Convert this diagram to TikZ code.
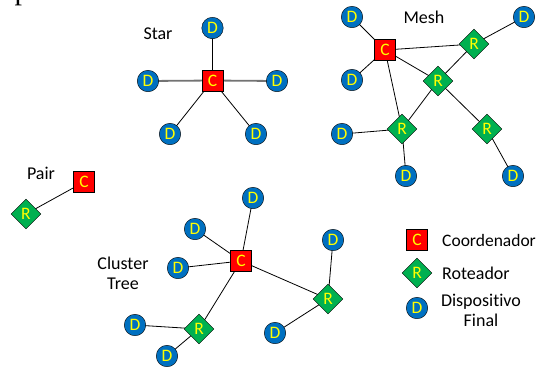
\documentclass[tikz,border=0pt]{standalone}
\usepackage{fontspec}
\setmainfont{Carlito}[Ligatures=NoCommon]
\newfontfamily\serifp{Liberation Serif}
\usetikzlibrary{shapes.geometric}
\pgfdeclarelayer{edges}
\pgfsetlayers{edges,main}
\definecolor{cred}{RGB}{255,0,0}
\definecolor{rgreen}{RGB}{0,176,80}
\definecolor{dblue}{RGB}{0,112,192}
\definecolor{ytext}{RGB}{255,255,0}
\tikzset{
  nfont/.style={font=\fontsize{17.5}{19}\selectfont},
  coord/.style={draw=black, fill=cred, minimum size=21pt, inner sep=0pt, text=ytext, nfont},
  rout/.style={diamond, draw=black, fill=rgreen, minimum width=30pt, minimum height=30pt, inner sep=0pt, text=ytext, nfont},
  dev/.style={circle, draw=black, fill=dblue, minimum size=21.5pt, inner sep=0pt, text=ytext, nfont},
  lbl/.style={font=\fontsize{18}{21}\selectfont, text=black, align=center},
  link/.style={draw=black, line width=0.8pt},
  glink/.style={draw=black!55, line width=1.8pt}
}
\begin{document}
\begin{tikzpicture}[x=1pt,y=-1pt]
\useasboundingbox (0,0) rectangle (539,368);
\begin{scope}
\clip (0,0) rectangle (539,368);
\node[font=\fontsize{30}{30}\selectfont\serifp, anchor=base, inner sep=0pt] (frag) at (22,-1) {p};
\end{scope}
% Star
\node[lbl] (starl) at (158,34) {Star};
\node[coord] (sc) at (212.5,80.5) {C};
\node[dev] (sd1) at (212.5,28) {D};
\node[dev] (sd2) at (148,81) {D};
\node[dev] (sd3) at (277,81) {D};
\node[dev] (sd4) at (170,134) {D};
\node[dev] (sd5) at (256,134) {D};
% Mesh
\node[lbl] (meshl) at (424,17) {Mesh};
\node[coord] (mc) at (385,50) {C};
\node[rout] (mr1) at (474,44) {R};
\node[rout] (mr2) at (438,81) {R};
\node[rout] (mr3) at (402,129) {R};
\node[rout] (mr4) at (487,129) {R};
\node[dev] (md1) at (352,17) {D};
\node[dev] (md2) at (352,80) {D};
\node[dev] (md3) at (524,17) {D};
\node[dev] (md4) at (342,134) {D};
\node[dev] (md5) at (406,176) {D};
\node[dev] (md6) at (513,176) {D};
% Pair
\node[lbl] (pairl) at (41,173) {Pair};
\node[coord] (pc) at (84,182) {C};
\node[rout] (pr) at (26,214) {R};
% Cluster tree
\node[lbl] (clul) at (123,273.5) {Cluster\\[-1pt]Tree};
\node[coord] (cc) at (241,261) {C};
\node[rout] (cr1) at (199,329) {R};
\node[rout] (cr2) at (328,299) {R};
\node[dev] (cd1) at (253,198) {D};
\node[dev] (cd2) at (195,229) {D};
\node[dev] (cd3) at (178,268) {D};
\node[dev] (cd4) at (135,325) {D};
\node[dev] (cd5) at (167,356) {D};
\node[dev] (cd6) at (275,333) {D};
\node[dev] (cd7) at (333,240) {D};
% Legend
\node[coord] (lc) at (417,240) {C};
\node[rout] (lr) at (417,273) {R};
\node[dev] (ld) at (417,308) {D};
\node[lbl, anchor=west, inner sep=0pt, font=\fontsize{17.5}{21}\selectfont] (lct) at (442,240) {Coordenador};
\node[lbl, anchor=west, inner sep=0pt] (lrt) at (442,273) {Roteador};
\node[lbl] (ldt) at (481,310) {Dispositivo\\[-1pt]Final};
% edges
\begin{pgfonlayer}{edges}
\draw[glink] (sc.center) -- (sd2.center);
\draw[glink] (sc.center) -- (sd3.center);
\draw[link] (sc.center) -- (sd1.center);
\draw[link] (sc.center) -- (sd4.center);
\draw[link] (sc.center) -- (sd5.center);
\draw[link] (mc.center) -- (md1.center);
\draw[link] (mc.center) -- (md2.center);
\draw[link] (mc.center) -- (mr1.center);
\draw[link] (mc.center) -- (mr2.center);
\draw[link] (mc.center) -- (mr3.center);
\draw[link] (mr1.center) -- (md3.center);
\draw[link] (mr1.center) -- (mr2.center);
\draw[link] (mr2.center) -- (mr3.center);
\draw[link] (mr2.center) -- (mr4.center);
\draw[link] (mr3.center) -- (md4.center);
\draw[link] (mr3.center) -- (md5.center);
\draw[link] (mr4.center) -- (md6.center);
\draw[link] (pc.center) -- (pr.center);
\draw[link] (cc.center) -- (cd1.center);
\draw[link] (cc.center) -- (cd2.center);
\draw[link] (cc.center) -- (cd3.center);
\draw[link] (cc.center) -- (cr1.center);
\draw[link] (cc.center) -- (cr2.center);
\draw[link] (cr1.center) -- (cd4.center);
\draw[link] (cr1.center) -- (cd5.center);
\draw[link] (cr2.center) -- (cd6.center);
\draw[link] (cr2.center) -- (cd7.center);
\end{pgfonlayer}
\end{tikzpicture}
\end{document}
